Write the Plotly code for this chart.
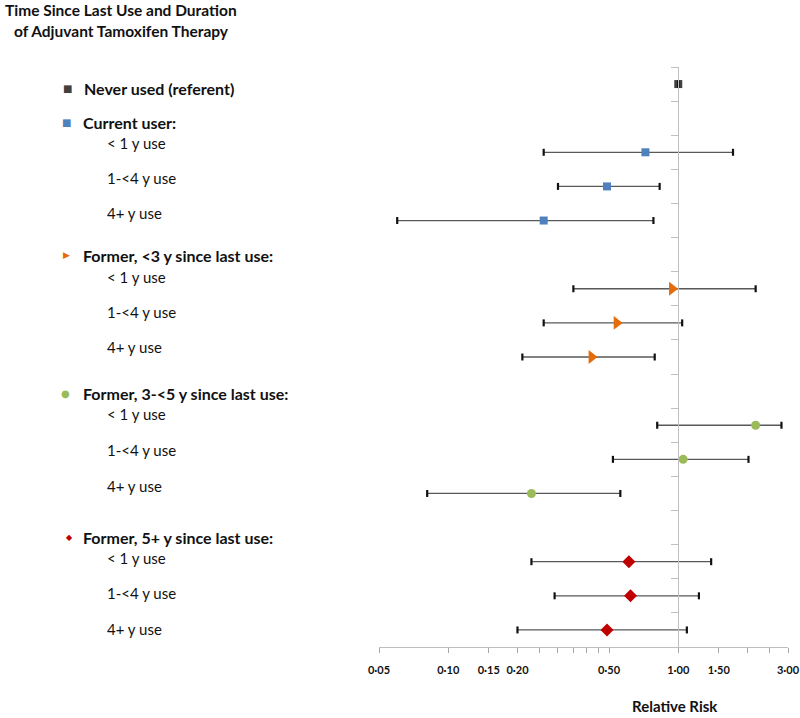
import math
import plotly.graph_objects as go

# ---------------- data ----------------
groups = ["Never used (referent)", "Current user:", "Former, <3 y since last use:",
          "Former, 3-<5 y since last use:", "Former, 5+ y since last use:"]
durations = ["< 1 y use", "1-<4 y use", "4+ y use"]

never_rr = [1.00]
never_lo = [1.00]
never_hi = [1.00]

current_rr = [0.72, 0.49, 0.26]
current_lo = [0.26, 0.30, 0.060]
current_hi = [1.73, 0.83, 0.78]

former3_rr = [0.94, 0.54, 0.42]
former3_lo = [0.35, 0.26, 0.21]
former3_hi = [2.17, 1.04, 0.79]

former35_rr = [2.17, 1.05, 0.23]
former35_lo = [0.81, 0.52, 0.081]
former35_hi = [2.81, 2.02, 0.56]

former5_rr = [0.61, 0.62, 0.49]
former5_lo = [0.23, 0.29, 0.20]
former5_hi = [1.39, 1.23, 1.09]

tick_vals = [0.05, 0.10, 0.15, 0.20, 0.25, 0.30, 0.35, 0.40, 0.45, 0.50,
             1.00, 1.50, 2.00, 2.50, 3.00]
tick_text = ["0·05", "0·10", "0·15", "0·20", "", "", "", "", "", "0·50",
             "1·00", "1·50", "", "", "3·00"]
x_min, x_max = 0.05, 3.0

# ---------------- layout constants ----------------
W, H = 800, 718
ML, MR, MT, MB = 379, 12, 67, 71
FONT = "Lato, Carlito, 'Open Sans', sans-serif"
TXT = "#111111"


def px(x):
    return (x - ML) / (W - ML - MR)


def py(y):
    return 1 - (y - MT) / (H - MT - MB)


styles = [
    dict(color="#404040", symbol="square", size=8, glyph="■", gsize=10),
    dict(color="#4f81bd", symbol="square", size=8, glyph="■", gsize=10),
    dict(color="#e46c0a", symbol="triangle-right", size=12, glyph="▶", gsize=9),
    dict(color="#9bbb59", symbol="circle", size=9, glyph="●", gsize=10),
    dict(color="#c00000", symbol="diamond", size=10, glyph="◆", gsize=8),
]

series = [
    (never_rr, never_lo, never_hi),
    (current_rr, current_lo, current_hi),
    (former3_rr, former3_lo, former3_hi),
    (former35_rr, former35_lo, former35_hi),
    (former5_rr, former5_lo, former5_hi),
]

fig = go.Figure()
for g, (rr, lo, hi) in enumerate(series):
    if g == 0:
        rows = [0]
    else:
        rows = [1 + 4 * (g - 1) + 1 + d for d in range(len(rr))]
    st = styles[g]
    fig.add_trace(go.Scatter(
        x=rr, y=rows, mode="markers",
        marker=dict(color=st["color"], symbol=st["symbol"], size=st["size"],
                    line=dict(width=0)),
        error_x=dict(type="data", symmetric=False,
                     array=[h - v for h, v in zip(hi, rr)],
                     arrayminus=[v - l for v, l in zip(rr, lo)],
                     color="#595959", thickness=1.3, width=0),
        hoverinfo="skip",
    ))
    fig.add_trace(go.Scatter(
        x=lo + hi, y=rows + rows, mode="markers",
        marker=dict(symbol="line-ns", size=5, color="#111111",
                    line=dict(width=2.2, color="#111111")),
        hoverinfo="skip",
    ))

# ---------------- left-side labels ----------------
head_y = [88, 123, 255, 393, 537]
head_glyph_x = [67, 66, 66, 65, 69]
item_y = [[], [143, 178, 213], [277, 312, 347], [414, 450, 486], [558, 593, 629]]
ann = []
for g, name in enumerate(groups):
    st = styles[g]
    ann.append(dict(x=px(head_glyph_x[g]), y=py(head_y[g]), xref="paper", yref="paper",
                    text=st["glyph"], showarrow=False, xanchor="center", yanchor="middle",
                    font=dict(family="DejaVu Sans", size=st["gsize"], color=st["color"])))
    ann.append(dict(x=px(81 if g else 82), y=py(head_y[g]), xref="paper", yref="paper",
                    text="<b>" + name + "</b>", showarrow=False, xanchor="left",
                    yanchor="middle", font=dict(family=FONT, size=16, color=TXT)))
    for d, yy in enumerate(item_y[g]):
        ann.append(dict(x=px(105), y=py(yy), xref="paper", yref="paper",
                        text=durations[d], showarrow=False, xanchor="left",
                        yanchor="middle", font=dict(family=FONT, size=15, color=TXT)))

ann.append(dict(x=px(121), y=py(10), xref="paper", yref="paper",
                text="<b>Time Since Last Use and Duration</b>", showarrow=False,
                xanchor="center", yanchor="middle", font=dict(family=FONT, size=15.5, color=TXT)))
ann.append(dict(x=px(121), y=py(31), xref="paper", yref="paper",
                text="<b>of Adjuvant Tamoxifen Therapy</b>", showarrow=False,
                xanchor="center", yanchor="middle", font=dict(family=FONT, size=15.5, color=TXT)))
ann.append(dict(x=px(675), y=py(706), xref="paper", yref="paper",
                text="<b>Relative Risk</b>", showarrow=False,
                xanchor="center", yanchor="middle", font=dict(family=FONT, size=15, color=TXT)))

lmin, lmax = math.log10(x_min), math.log10(x_max)
ypos = (0 - lmin) / (lmax - lmin)

fig.update_layout(
    width=W, height=H,
    margin=dict(l=ML, r=MR, t=MT, b=MB, pad=0),
    plot_bgcolor="white", paper_bgcolor="white",
    showlegend=False,
    annotations=ann,
    xaxis=dict(type="log", range=[lmin, lmax], tickmode="array",
               tickvals=tick_vals, ticktext=tick_text,
               ticks="outside", ticklen=5, tickcolor="#a6a6a6", tickwidth=1,
               showline=True, linecolor="#bfbfbf", linewidth=1,
               showgrid=False, zeroline=False, automargin=False,
               ticklabelstandoff=8,
               tickfont=dict(family=FONT, size=11, color=TXT, weight="bold")),
    yaxis=dict(range=[16.5, -0.5], anchor="free", position=ypos,
               tickmode="array", tickvals=[k - 0.5 for k in range(18)],
               showticklabels=False, ticks="outside", ticklen=7,
               tickcolor="#bfbfbf", tickwidth=1, automargin=False,
               showline=True, linecolor="#bfbfbf", linewidth=1,
               showgrid=False, zeroline=False),
)

fig.write_html(
    "out.html",
    config={"responsive": False, "displayModeBar": False},
    post_script="document.body.style.margin='0';document.body.style.overflow='hidden';",
)
